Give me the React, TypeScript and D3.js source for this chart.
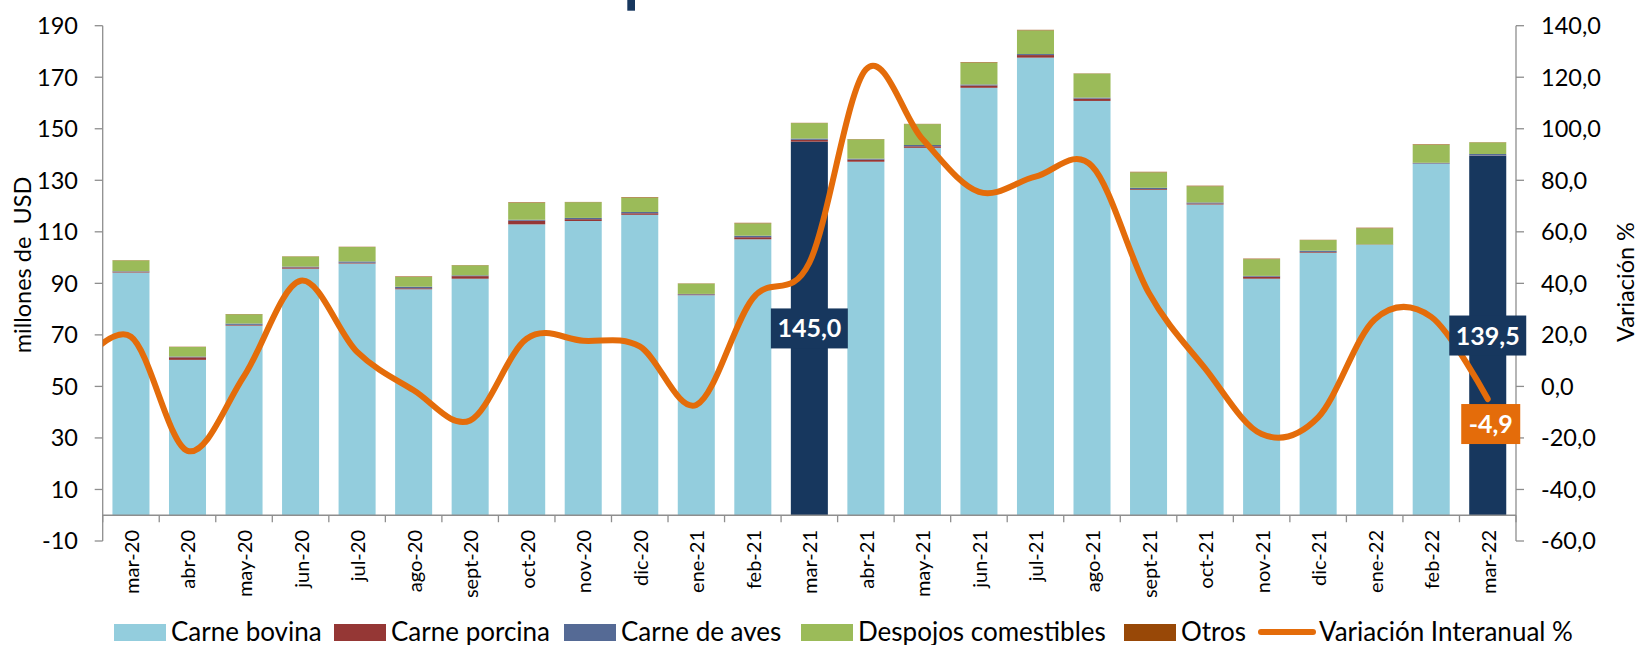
import React from "react";
import * as d3 from "d3";

const categories = ["mar-20","abr-20","may-20","jun-20","jul-20","ago-20","sept-20","oct-20","nov-20","dic-20","ene-21","feb-21","mar-21","abr-21","may-21","jun-21","jul-21","ago-21","sept-21","oct-21","nov-21","dic-21","ene-22","feb-22","mar-22"];

const carneBovina = [94.2,60.3,73.6,95.7,97.7,87.7,91.8,112.9,114.2,116.6,85.4,107.1,145.0,137.2,142.6,165.9,177.6,160.8,126.3,120.6,91.8,101.9,104.9,136.4,139.5];
const carnePorcina = [0.3,1.0,0.3,0.5,0.3,0.4,1.0,1.4,0.7,0.6,0.3,0.8,0.7,0.8,0.6,0.9,1.0,0.9,0.3,0.4,0.8,0.3,0.1,0.1,0.1];
const carneAves = [0.2,0.3,0.5,0.3,0.5,0.6,0.3,0.4,0.5,0.5,0.2,0.6,0.5,0.4,0.5,0.4,0.4,0.4,0.5,0.4,0.3,0.5,0.1,0.3,0.6];
const despojos = [4.2,3.7,3.6,3.9,5.6,3.8,3.9,6.6,6.1,5.6,4.0,4.8,6.0,7.5,8.1,8.5,9.2,9.3,6.0,6.3,6.5,4.1,6.3,7.0,4.5];
const otros = [0.1,0.1,0.1,0.1,0.1,0.2,0.1,0.2,0.1,0.2,0.1,0.2,0.1,0.1,0.1,0.2,0.2,0.1,0.2,0.2,0.2,0.1,0.2,0.2,0.1];

// Variación interanual %; the first value is the month before mar-20 (clipped off the plot)
const variacionPrev = 6;
const variacion = [19.3,-25,4,41,13.4,-1.5,-13.2,18.5,17.7,15.5,-7.2,34.2,48,123,96,75.5,81.4,85.5,36.5,7,-18.5,-12,26,27,-4.9];

const highlighted = ["mar-21","mar-22"];
const leftTicks = [-10,10,30,50,70,90,110,130,150,170,190];
const rightTicks = [-60,-40,-20,0,20,40,60,80,100,120,140];

const seriesNames = ["Carne bovina","Carne porcina","Carne de aves","Despojos comestibles","Otros"];
const seriesValues = [carneBovina, carnePorcina, carneAves, despojos, otros];
const seriesColors = ["#93cddd","#953735","#556a95","#9bbb59","#984807"];
const lineName = "Variación Interanual %";
const lineColor = "#e46c0a";
const navy = "#17375e";
const axisColor = "#8e8e8e";
const FONT = "Lato, 'Open Sans', sans-serif";

const fmt = (v: number) => d3.format(".1f")(v).replace(".", ",").replace("\u2212", "-");

export default function App() {
  const W = 1640, H = 645;
  const left = 102.7, right = 1516, top = 25.7, bottom = 541;

  const x = d3.scaleBand<string>().domain(categories).range([left, right]).padding(0);
  const bw = x.bandwidth();
  const barW = bw * 0.655;
  const yL = d3.scaleLinear().domain([-10, 190]).range([bottom, top]);
  const yR = d3.scaleLinear().domain([-60, 140]).range([bottom, top]);
  const cx = (c: string) => (x(c) as number) + bw / 2;

  const rows = categories.map((c, i) => {
    const r: any = { cat: c };
    seriesNames.forEach((n, k) => (r[n] = seriesValues[k][i]));
    return r;
  });
  const stacked = d3.stack<any>().keys(seriesNames)(rows);

  const linePts: [number, number][] = [
    [cx(categories[0]) - bw, yR(variacionPrev)],
    ...categories.map((c, i) => [cx(c), yR(variacion[i])] as [number, number]),
  ];
  const linePath = d3.line().curve(d3.curveCardinal.tension(0))(linePts) || "";

  const legendX = [114, 334, 564, 801, 1124, 1259];
  const swW = 52;

  const lastIdx = categories.length - 1;
  const lastPt = { x: cx(categories[lastIdx]), y: yR(variacion[lastIdx]) };

  return (
    <svg width={W} height={H} style={{ position: "absolute", left: 0, top: 0, background: "#fff" }} fontFamily={FONT}>
      <defs>
        <clipPath id="plotClip">
          <rect x={left} y={0} width={right - left} height={bottom} />
        </clipPath>
      </defs>
      {/* fragment of the cut-off title */}
      <rect x={627.3} y={0} width={7.7} height={10.7} fill={navy} />

      {/* bars */}
      {stacked.map((s, k) => (
        <g key={s.key}>
          {s.map((d, i) => {
            const c = categories[i];
            const isHi = k === 0 && highlighted.includes(c);
            return (
              <rect key={c} x={cx(c) - barW / 2} y={yL(d[1])} width={barW}
                height={Math.max(0, yL(d[0]) - yL(d[1]))}
                fill={isHi ? navy : seriesColors[k]} />
            );
          })}
        </g>
      ))}

      {/* axes */}
      <line x1={left} x2={left} y1={top} y2={bottom} stroke={axisColor} strokeWidth={1.3} />
      <line x1={right} x2={right} y1={top} y2={bottom} stroke={axisColor} strokeWidth={1.3} />
      <line x1={left} x2={right} y1={yL(0)} y2={yL(0)} stroke={axisColor} strokeWidth={1.3} />
      {leftTicks.map((t) => (
        <g key={"l" + t}>
          <line x1={left - 8} x2={left} y1={yL(t)} y2={yL(t)} stroke={axisColor} strokeWidth={1.3} />
          <text x={78} y={yL(t)} dy="0.36em" textAnchor="end" fontSize={23.5} fill="#000">{t}</text>
        </g>
      ))}
      {rightTicks.map((t) => (
        <g key={"r" + t}>
          <line x1={right} x2={right + 8} y1={yR(t)} y2={yR(t)} stroke={axisColor} strokeWidth={1.3} />
          <text x={1541} y={yR(t)} dy="0.36em" textAnchor="start" fontSize={23.5} fill="#000">{fmt(t)}</text>
        </g>
      ))}
      {categories.map((c, i) => (
        <g key={"x" + c}>
          <line x1={(x(c) as number)} x2={(x(c) as number)} y1={yL(0)} y2={yL(0) + 7} stroke={axisColor} strokeWidth={1.3} />
          <text transform={`translate(${cx(c) + 8},${530}) rotate(-90)`} textAnchor="end" fontSize={20} fill="#000">{c}</text>
        </g>
      ))}
      <line x1={right} x2={right} y1={yL(0)} y2={yL(0) + 7} stroke={axisColor} strokeWidth={1.3} />

      {/* axis titles */}
      <text transform={`translate(31,265) rotate(-90)`} textAnchor="middle" fontSize={23.5} fill="#000" style={{ whiteSpace: "pre" }}>{"millones de  USD"}</text>
      <text transform={`translate(1634,282) rotate(-90)`} textAnchor="middle" fontSize={23.5} fill="#000">Variación %</text>

      {/* line */}
      <g clipPath="url(#plotClip)">
        <path d={linePath} fill="none" stroke={lineColor} strokeWidth={6} strokeLinecap="round" strokeLinejoin="round" />
      </g>

      {/* highlighted bar labels */}
      {highlighted.map((c) => {
        const i = categories.indexOf(c);
        const v = carneBovina[i];
        const yc = yL(v / 2);
        return (
          <g key={"lab" + c}>
            <rect x={cx(c) - 38.5} y={yc - 20} width={77} height={40} fill={navy} />
            <text x={cx(c)} y={yc} dy="0.36em" textAnchor="middle" fontSize={25} fontWeight="bold" fill="#fff">{fmt(v)}</text>
          </g>
        );
      })}
      <g>
        <rect x={lastPt.x + 3 - 29.5} y={lastPt.y + 5} width={59} height={40} fill={lineColor} />
        <text x={lastPt.x + 3} y={lastPt.y + 25} dy="0.36em" textAnchor="middle" fontSize={25} fontWeight="bold" fill="#fff">{fmt(variacion[lastIdx])}</text>
      </g>

      {/* legend */}
      {seriesNames.map((n, k) => (
        <g key={"lg" + n}>
          <rect x={legendX[k]} y={624} width={swW} height={17} fill={seriesColors[k]} />
          <text x={legendX[k] + swW + 5} y={641} fontSize={26} fill="#000">{n}</text>
        </g>
      ))}
      <line x1={legendX[5] + 2} x2={legendX[5] + swW + 2} y1={632} y2={632} stroke={lineColor} strokeWidth={6} strokeLinecap="round" />
      <text x={legendX[5] + swW + 8} y={641} fontSize={26} fill="#000">{lineName}</text>
    </svg>
  );
}
